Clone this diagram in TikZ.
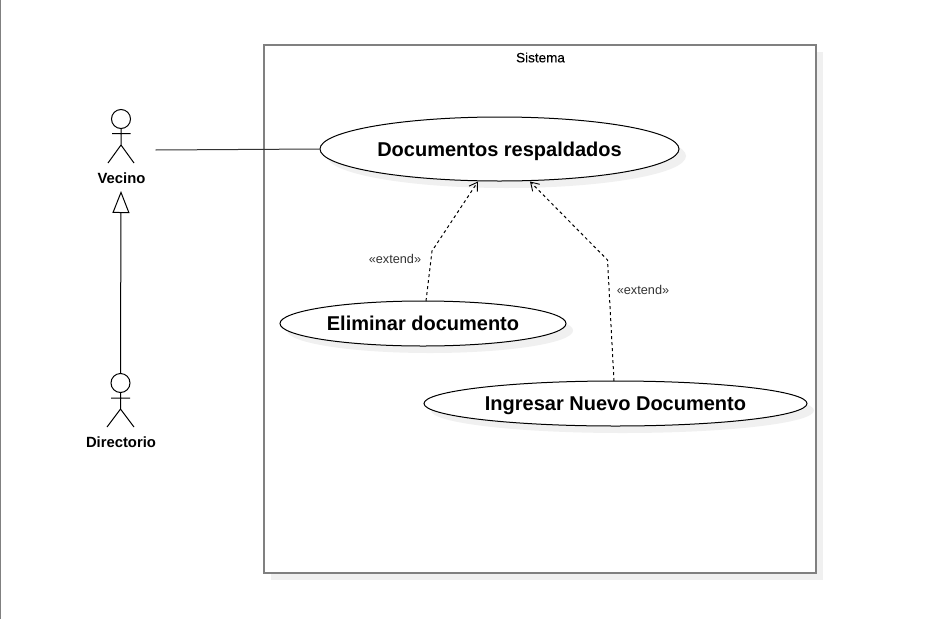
\documentclass[tikz,border=0pt]{standalone}
\usepackage{fontspec}
\setmainfont{Liberation Sans}
\newfontfamily\semifont[FakeBold=0.25]{Liberation Sans}
\usetikzlibrary{shapes.geometric,arrows.meta}
\tikzset{
  usecase/.style={ellipse,draw=black,line width=1pt,fill=white,inner sep=0pt,text height=14.2pt,text depth=0pt,font=\bfseries\fontsize{20}{24}\selectfont,text=black},
  actorname/.style={font=\bfseries\fontsize{14.8}{17}\selectfont,text=black,inner sep=0pt},
  actorline/.style={draw=black,line width=1pt},
  extendline/.style={draw=black,line width=1pt,dash pattern=on 3pt off 3pt,-{Straight Barb[length=8pt,width=10pt,line width=.9pt]}},
  stereo/.style={font=\fontsize{12.7}{15}\selectfont,text=black!80,inner sep=0pt},
  shadowfill/.style={fill=black!6,draw=none},
  assoc/.style={draw=black!80,line width=1pt}
}
\begin{document}
\begin{tikzpicture}[x=1pt,y=-1pt]
\useasboundingbox (0,0) rectangle (927,619);
\fill[white] (0,0) rectangle (927,619);
\draw[draw=black!50,line width=1.5pt] (0.3,0) -- (0.3,619);
% system frame
\fill[black!6] (271,52) rectangle (823,580);
\node[draw=black!50,line width=2pt,fill=white,minimum width=552pt,minimum height=528pt,inner sep=0pt,outer sep=0pt] (sys) at (540,309) {};
\node[font=\semifont\fontsize{13.5}{16}\selectfont,text=black,inner sep=0pt] (systitle) at (540.5,57.5) {Sistema};
% shadows
\fill[shadowfill] (506.5,156) ellipse [x radius=179.5,y radius=32];
\fill[shadowfill] (430,330.5) ellipse [x radius=143,y radius=22.5];
\fill[shadowfill] (622.5,410.5) ellipse [x radius=191.5,y radius=22.5];
% use cases
\node[usecase,minimum width=359pt,minimum height=64pt] (doc) at (499.5,149) {Documentos respaldados};
\node[usecase,minimum width=286pt,minimum height=45pt] (elim) at (423,323.5) {Eliminar documento};
\node[usecase,minimum width=383pt,minimum height=45pt] (ing) at (615.5,403.5) {Ingresar Nuevo Documento};
% actor Vecino
\node[circle,draw=black,line width=1pt,minimum size=19pt,inner sep=0pt] (vhead) at (121,119) {};
\coordinate (vhip) at (121,145);
\coordinate (vout) at (155.5,150);
\draw[actorline] (vhead.south) -- (vhip) (112,133.5) -- (130.5,133.5) (108,163) -- (vhip) -- (134,163);
\node[actorname] (vname) at (121.5,178) {Vecino};
% actor Directorio
\node[circle,draw=black,line width=1pt,minimum size=19pt,inner sep=0pt] (dhead) at (120.5,383) {};
\coordinate (dhip) at (120.5,409);
\draw[actorline] (dhead.south) -- (dhip) (111,398) -- (130,398) (107,427) -- (dhip) -- (134,427);
\node[actorname] (dname) at (121,442) {Directorio};
% connectors
\draw[assoc] (vout) -- (doc.west);
\coordinate (gentip) at (121,191);
\draw[draw=black,line width=1pt,-{Triangle[open,length=22pt,width=17pt,line width=1pt]}] (dhead.north) -- (gentip);
\coordinate (e1a) at (426,301);
\coordinate (e1b) at (432,251);
\coordinate (e1c) at (478,181.5);
\draw[extendline] (e1a) -- (e1b) -- (e1c);
\coordinate (e2a) at (614,381);
\coordinate (e2b) at (607.5,260);
\coordinate (e2c) at (530,181.5);
\draw[extendline] (e2a) -- (e2b) -- (e2c);
\node[stereo] (l1) at (395,259) {«extend»};
\node[stereo] (l2) at (643,290) {«extend»};
\end{tikzpicture}
\end{document}
